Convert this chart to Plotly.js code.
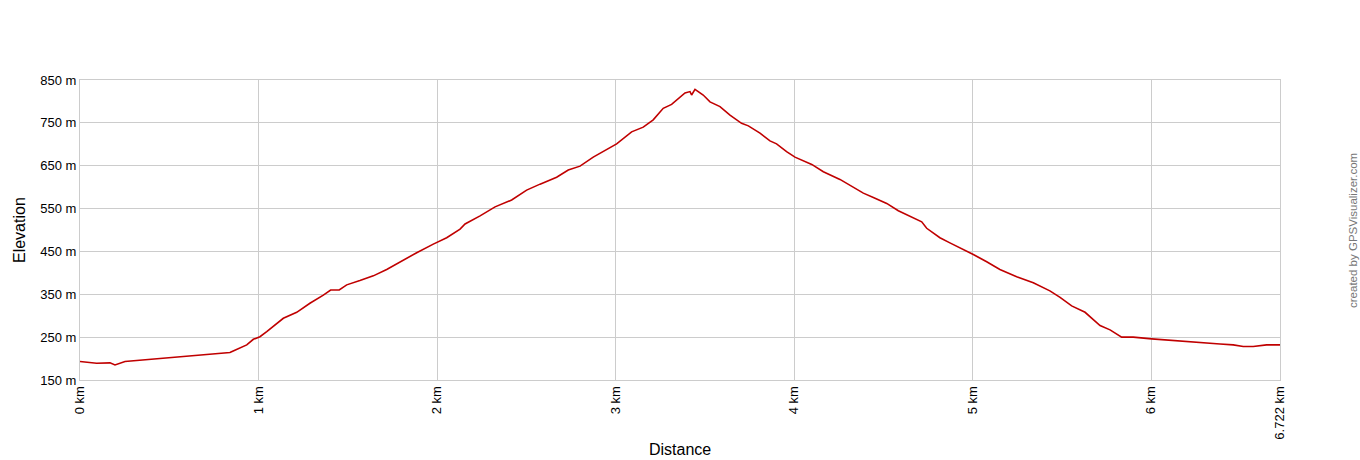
<!DOCTYPE html>
<html>
<head>
<meta charset="utf-8">
<script src="https://cdn.plot.ly/plotly-3.0.1.min.js"></script>
<style>
  html, body { margin: 0; padding: 0; background: #fff; }
  #chart { width: 1360px; height: 460px; }
</style>
</head>
<body>
<div id="chart"></div>
<script>
// distance along the track (km) and elevation (m)
var distKm = [
    0.000, 0.093, 0.168, 0.196, 0.252, 0.392, 0.579, 0.766, 0.840, 0.855,
    0.934, 0.971, 1.008, 1.046, 1.102, 1.139, 1.214, 1.288, 1.363, 1.404,
    1.452, 1.494, 1.568, 1.643, 1.718, 1.793, 1.849, 1.886, 1.979, 2.054,
    2.129, 2.157, 2.241, 2.325, 2.418, 2.502, 2.577, 2.670, 2.735, 2.801,
    2.875, 2.931, 3.006, 3.090, 3.155, 3.211, 3.267, 3.314, 3.389, 3.417,
    3.426, 3.445, 3.491, 3.529, 3.585, 3.641, 3.706, 3.744, 3.809, 3.865,
    3.902, 3.958, 4.005, 4.099, 4.164, 4.257, 4.332, 4.388, 4.444, 4.519,
    4.584, 4.649, 4.715, 4.743, 4.817, 4.873, 4.948, 5.004, 5.079, 5.153,
    5.247, 5.340, 5.433, 5.490, 5.555, 5.630, 5.714, 5.770, 5.835, 5.900,
    6.003, 6.087, 6.180, 6.274, 6.386, 6.460, 6.516, 6.572, 6.647, 6.722
];
var elevM = [
    193, 189, 190, 185, 193, 198, 206, 212, 214, 217,
    232, 245, 251, 263, 282, 294, 308, 329, 348, 360,
    360, 372, 382, 393, 408, 426, 438, 447, 467, 482,
    502, 514, 533, 554, 570, 593, 607, 623, 640, 649,
    670, 683, 701, 729, 740, 757, 784, 793, 820, 823,
    815, 828, 815, 799, 788, 768, 749, 743, 726, 708,
    701, 683, 670, 653, 636, 618, 600, 586, 576, 562,
    545, 533, 519, 504, 482, 470, 455, 443, 426, 408,
    391, 377, 358, 343, 323, 308, 277, 267, 250, 250,
    246, 243, 241, 238, 234, 232, 228, 228, 232, 232
];

var xTickVals = [0, 1, 2, 3, 4, 5, 6, 6.722];
var xTickText = ['0 km', '1 km', '2 km', '3 km', '4 km', '5 km', '6 km', '6.722 km'];
var yTickVals = [150, 250, 350, 450, 550, 650, 750, 850];
var yTickText = ['150 m', '250 m', '350 m', '450 m', '550 m', '650 m', '750 m', '850 m'];

var trace = {
    x: distKm,
    y: elevM,
    mode: 'lines',
    type: 'scatter',
    line: { color: '#c00000', width: 1.6 },
    hoverinfo: 'x+y'
};

var layout = {
    width: 1360,
    height: 460,
    margin: { l: 80, r: 80, t: 80, b: 80 },
    paper_bgcolor: '#ffffff',
    plot_bgcolor: '#ffffff',
    showlegend: false,
    font: { family: 'Liberation Sans, Arial, sans-serif', size: 13, color: '#000' },
    xaxis: {
        range: [0, 6.722],
        tickvals: xTickVals,
        ticktext: xTickText,
        tickangle: -90,
        ticks: '',
        showgrid: true,
        gridcolor: '#cccccc',
        gridwidth: 1,
        showline: true,
        linecolor: '#cccccc',
        mirror: true,
        zeroline: false,
        tickfont: { size: 13 }
    },
    yaxis: {
        range: [150, 850],
        tickvals: yTickVals,
        ticktext: yTickText,
        ticks: '',
        showgrid: true,
        gridcolor: '#cccccc',
        gridwidth: 1,
        showline: true,
        linecolor: '#cccccc',
        mirror: true,
        zeroline: false,
        tickfont: { size: 13 }
    },
    annotations: [
        {
            text: 'Distance', xref: 'paper', yref: 'paper',
            x: 0.5, y: -0.233, xanchor: 'center', yanchor: 'middle',
            showarrow: false, font: { size: 16, color: '#000' }
        },
        {
            text: 'Elevation', xref: 'paper', yref: 'paper',
            x: -0.0508, y: 0.5, xanchor: 'center', yanchor: 'middle',
            textangle: -90, showarrow: false, font: { size: 16, color: '#000' }
        },
        {
            text: 'created by GPSVisualizer.com', xref: 'paper', yref: 'paper',
            x: 1.0608, y: 0.5, xanchor: 'center', yanchor: 'middle',
            textangle: -90, showarrow: false, font: { size: 11.5, color: '#777777' }
        }
    ]
};

Plotly.newPlot('chart', [trace], layout, { displayModeBar: false, staticPlot: true });
</script>
</body>
</html>
